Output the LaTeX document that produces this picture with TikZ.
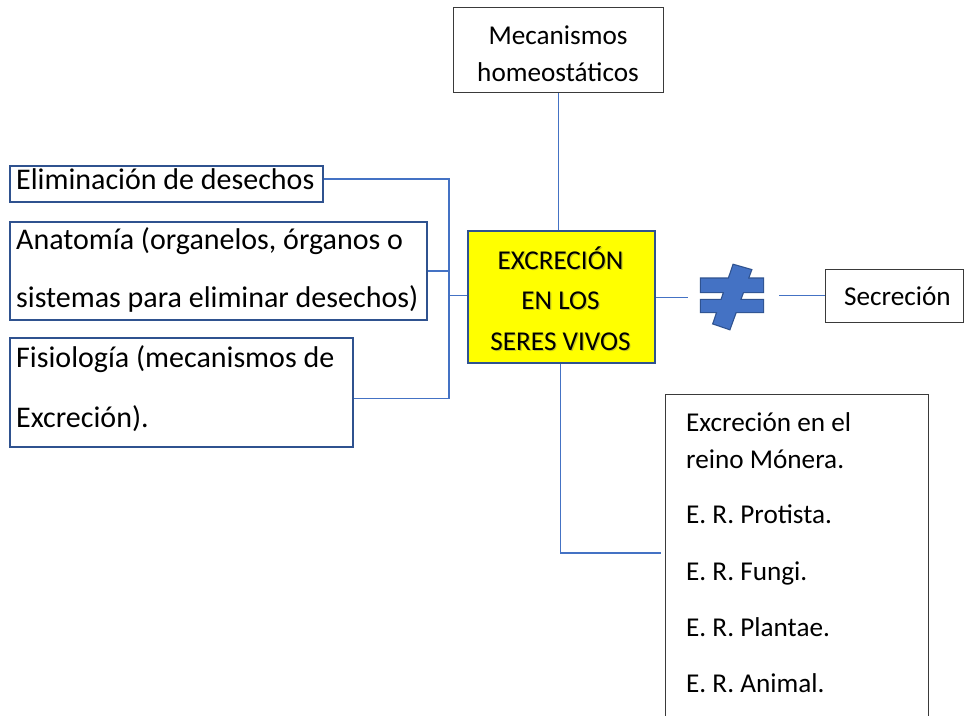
\documentclass[tikz,border=0pt]{standalone}
\usepackage{fontspec}
\setmainfont{Carlito}
\definecolor{dkblue}{HTML}{2F528F}
\definecolor{ltblue}{HTML}{4472C4}
\definecolor{ylw}{HTML}{FFFF00}
\definecolor{boxline}{HTML}{3A3A3A}
\begin{document}
\begin{tikzpicture}[x=1pt,y=-1pt,
  conn/.style={draw=ltblue,line width=1.2pt},
  bluebox/.style={draw=dkblue,line width=2pt,fill=white,inner sep=0pt,anchor=north west},
  plainbox/.style={draw=boxline,line width=1.1pt,fill=white,inner sep=0pt,anchor=north west},
  big/.style={font=\fontsize{30}{36}\selectfont,inner sep=0pt,anchor=base west},
  txt/.style={font=\fontsize{27.2}{33}\selectfont,inner sep=0pt},
  shadowtxt/.style={txt,anchor=base,text=black!60,opacity=0.35},
]
\useasboundingbox (0,0) rectangle (964,715);
\fill[white] (0,0) rectangle (964,715);

% boxes
\node[plainbox,minimum width=210pt,minimum height=85pt] (mec) at (453,7) {};
\node[draw=dkblue,line width=2.2pt,fill=ylw,inner sep=0pt,anchor=north west,minimum width=187pt,minimum height=132pt] (yel) at (467,230) {};
\node[plainbox,minimum width=138pt,minimum height=53pt] (sec) at (825,268.5) {};
\node[bluebox,minimum width=313pt,minimum height=36pt] (elim) at (9,165) {};
\node[bluebox,minimum width=417pt,minimum height=98pt] (anat) at (9,221) {};
\node[bluebox,minimum width=343pt,minimum height=109pt] (fis) at (9,337) {};
\node[plainbox,minimum width=263pt,minimum height=340pt] (reinos) at (665,394) {};
\node[inner sep=0pt,minimum width=91pt,minimum height=10pt] (neq) at (733.5,296) {};

% connectors
\coordinate (bus) at (449,296);
\coordinate (kb) at (661,553);
\draw[conn] (mec.south) -- (mec.south |- yel.north);
\draw[conn] ([yshift=5pt]elim.east) -| (bus) |- ([yshift=-6pt]fis.east);
\draw[conn] (anat.east) -- (anat.east -| bus);
\draw[conn] ([yshift=2pt]yel.west) -- ([yshift=2pt]yel.west -| bus);
\draw[conn] (yel.east) -- (yel.east -| neq.west);
\draw[conn] (sec.west -| neq.east) -- (sec.west);
\draw[conn] ([xshift=-1.5pt]yel.south) |- (kb);

% not-equal symbol
\begin{scope}
  \draw[dkblue,line width=2.4pt,line join=miter]
    (701,278.5) rectangle (763,292)
    (701,300) rectangle (763,312)
    (733.5,265) -- (751,270) -- (729.5,329) -- (713.5,323.5) -- cycle;
  \fill[ltblue]
    (701,278.5) rectangle (763,292)
    (701,300) rectangle (763,312);
  \fill[ltblue]
    (733.5,265) -- (751,270) -- (729.5,329) -- (713.5,323.5) -- cycle;
\end{scope}

% texts
\node[txt,anchor=base] (m1) at (558,44.3) {Mecanismos};
\node[txt,anchor=base] (m2) at (558,81) {homeostáticos};
\node[shadowtxt] (y1s) at (561.7,270.5) {EXCRECIÓN};
\node[shadowtxt] (y2s) at (561.7,310.5) {EN LOS};
\node[shadowtxt] (y3s) at (561.7,351.2) {SERES VIVOS};
\node[txt,anchor=base] (y1) at (560.5,269.3) {EXCRECIÓN};
\node[txt,anchor=base] (y2) at (560.5,309.3) {EN LOS};
\node[txt,anchor=base] (y3) at (560.5,350) {SERES VIVOS};
\node[txt,anchor=base west] (s1) at (844,305) {Secreción};
\node[big] (e1) at (16,189.3) {Eliminación de desechos};
\node[big] (a1) at (16,249.3) {Anatomía (organelos, órganos o};
\node[big] (a2) at (16,307.7) {sistemas para eliminar desechos)};
\node[big] (f1) at (16,367.3) {Fisiología (mecanismos de};
\node[big] (f2) at (16,427.3) {Excreción).};
\node[txt,anchor=base west] (r1) at (686,431) {Excreción en el};
\node[txt,anchor=base west] (r2) at (686,468) {reino Mónera.};
\node[txt,anchor=base west] (r3) at (686,523.3) {E. R. Protista.};
\node[txt,anchor=base west] (r4) at (686,580.7) {E. R. Fungi.};
\node[txt,anchor=base west] (r5) at (686,636.7) {E. R. Plantae.};
\node[txt,anchor=base west] (r6) at (686,692.3) {E. R. Animal.};
\end{tikzpicture}
\end{document}
